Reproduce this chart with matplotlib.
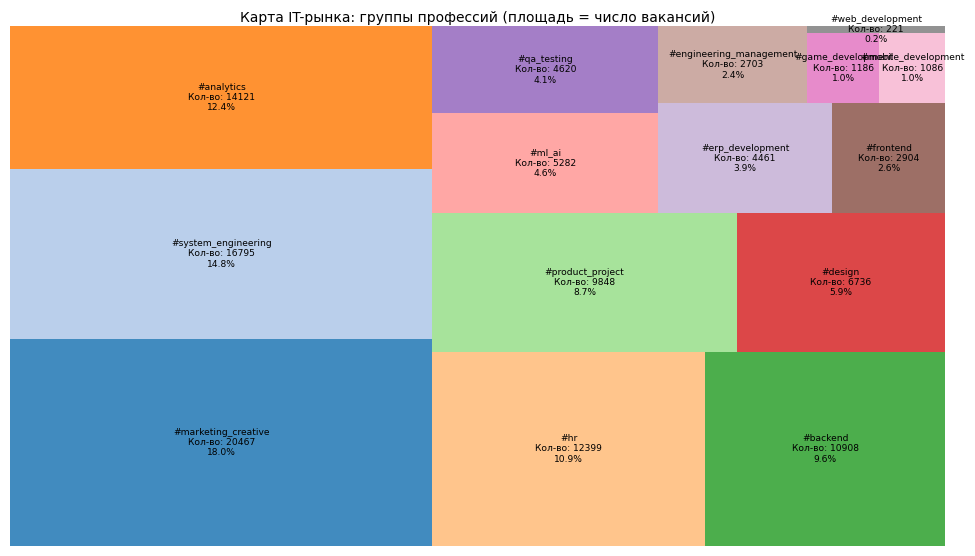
import matplotlib
matplotlib.use("Agg")
import matplotlib.pyplot as plt

# Данные: группы профессий и число вакансий
groups = [
    "#marketing_creative", "#system_engineering", "#analytics", "#hr",
    "#backend", "#product_project", "#design", "#ml_ai", "#qa_testing",
    "#erp_development", "#frontend", "#engineering_management",
    "#game_development", "#mobile_development", "#web_development",
]
counts = [20467, 16795, 14121, 12399, 10908, 9848, 6736, 5282, 4620,
          4461, 2904, 2703, 1186, 1086, 221]


# ===== squarify (упрощённо) =====
def layoutrow(sizes, x, y, dx, dy):
    width = sum(sizes) / dy
    rects = []
    for s in sizes:
        rects.append((x, y, width, s / width))
        y += s / width
    return rects


def layoutcol(sizes, x, y, dx, dy):
    height = sum(sizes) / dx
    rects = []
    for s in sizes:
        rects.append((x, y, s / height, height))
        x += s / height
    return rects


def layout(sizes, x, y, dx, dy):
    if dx >= dy:
        return layoutrow(sizes, x, y, dx, dy)
    return layoutcol(sizes, x, y, dx, dy)


def leftover(sizes, x, y, dx, dy):
    if dx >= dy:
        w = sum(sizes) / dy
        return x + w, y, dx - w, dy
    h = sum(sizes) / dx
    return x, y + h, dx, dy - h


def worst(sizes, x, y, dx, dy):
    return max(max(r[2] / r[3], r[3] / r[2]) for r in layout(sizes, x, y, dx, dy))


def squarify(sizes, x, y, dx, dy):
    if len(sizes) == 0:
        return []
    if len(sizes) == 1:
        return layout(sizes, x, y, dx, dy)
    i = 1
    while i < len(sizes) and worst(sizes[:i], x, y, dx, dy) >= worst(sizes[:i + 1], x, y, dx, dy):
        i += 1
    cur, rest = sizes[:i], sizes[i:]
    lx, ly, ldx, ldy = leftover(cur, x, y, dx, dy)
    return layout(cur, x, y, dx, dy) + squarify(rest, lx, ly, ldx, ldy)


total = sum(counts)
norm = [c * 100 * 100 / total for c in counts]
rects = squarify(norm, 0, 0, 100, 100)

colors = plt.cm.tab20.colors

fig = plt.figure(figsize=(9.75, 5.56), dpi=100)
ax = fig.add_axes([10 / 975, 1 - 546 / 556, 935 / 975, 520 / 556])

for k, (x, y, dx, dy) in enumerate(rects):
    ax.bar(x, dy, width=dx, bottom=y, align="edge",
           color=colors[k % 20], alpha=0.85)
    label = f"{groups[k]}\nКол-во: {counts[k]}\n{counts[k] / total * 100:.1f}%"
    ax.text(x + dx / 2, y + dy / 2, label, ha="center", va="center",
            fontsize=6.55)

ax.set_xlim(0, 100)
ax.set_ylim(0, 100)
ax.axis("off")
ax.set_title("Карта IT-рынка: группы профессий (площадь = число вакансий)",
             fontsize=10, pad=3)

fig.savefig("out.png", dpi=100)
